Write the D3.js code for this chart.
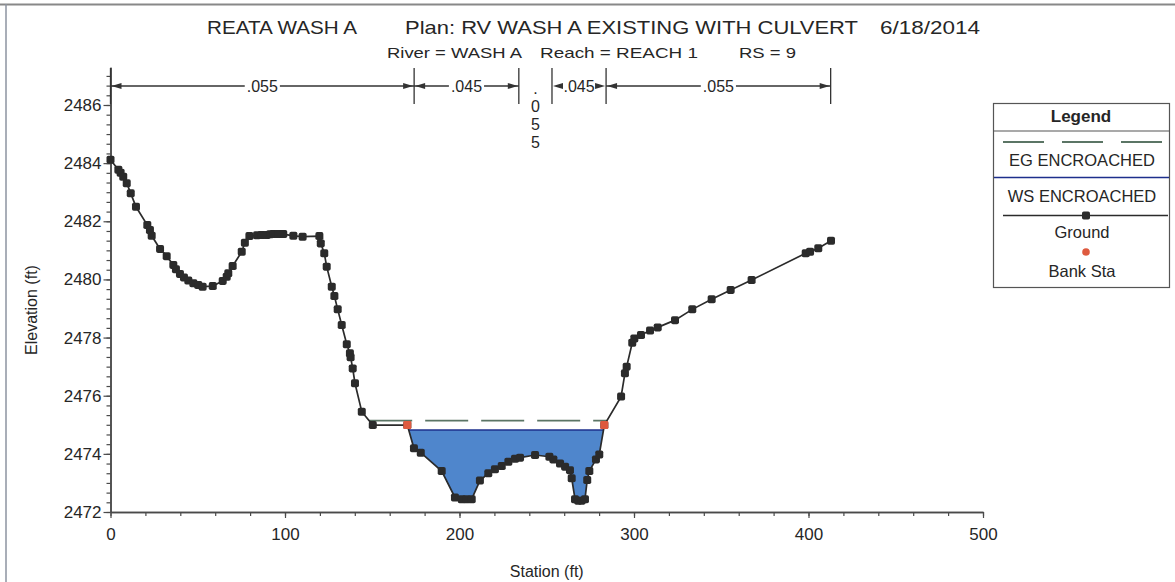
<!DOCTYPE html>
<html>
<head>
<meta charset="utf-8">
<script src="https://cdn.jsdelivr.net/npm/d3@7"></script>
<style>
  body { margin: 0; background: #fff; }
  svg { display: block; }
  text { font-family: "Liberation Sans", Arial, Helvetica, sans-serif; fill: #262626; }
</style>
</head>
<body>
<svg id="chart" width="1175" height="582"></svg>
<script>
// Cross-section ground survey: station (ft) and elevation (ft)
const stations = [
  0, 4.5, 5.8, 7.3, 9.3, 11.6, 14.6, 21.1, 22.6, 23.6, 28.4, 32.2, 36, 37.5, 39.8,
  42.1, 44.6, 47.5, 50.3, 52.8, 58.6, 64.3, 66.6, 67.5, 70, 75.2, 77, 79.6, 84,
  86.6, 89.5, 91.5, 93.3, 96.2, 99, 104.8, 110.1, 119.7, 120.5, 122.5, 123.9,
  126.8, 128.3, 130.2, 132.5, 135.4, 137.2, 137.6, 138.8, 140.1, 144, 150.3,
  170.1, 173.9, 177.8, 189.8, 197.4, 201.3, 204, 207, 211.7, 216.5, 220.3, 224.2,
  228, 231.8, 234.7, 243.3, 251.5, 253.8, 257.6, 260.5, 263.3, 264.3, 266.2, 268,
  270, 271.9, 273.2, 274.4, 278.2, 280.1, 283, 292.6, 294.8, 295.8, 299, 300.2,
  304, 309.2, 313.6, 323.5, 333.4, 344.5, 355.4, 367.4, 398.4, 400.9, 405.6, 412.9
];
const elevations = [
  2484.12, 2483.77, 2483.67, 2483.53, 2483.31, 2482.96, 2482.5, 2481.87, 2481.7, 2481.5,
  2481.05, 2480.8, 2480.5, 2480.35, 2480.19, 2480.07, 2479.96, 2479.87, 2479.81, 2479.75,
  2479.77, 2479.95, 2480.09, 2480.21, 2480.46, 2480.95, 2481.26, 2481.49, 2481.52,
  2481.53, 2481.53, 2481.55, 2481.56, 2481.56, 2481.56, 2481.5, 2481.47, 2481.49,
  2481.24, 2480.9, 2480.44, 2479.75, 2479.43, 2478.97, 2478.43, 2477.77, 2477.46,
  2477.32, 2476.94, 2476.43, 2475.45, 2474.99, 2474.99, 2474.19, 2474.04, 2473.41,
  2472.5, 2472.44, 2472.44, 2472.44, 2473.08, 2473.33, 2473.47, 2473.58, 2473.73,
  2473.83, 2473.87, 2473.96, 2473.9, 2473.81, 2473.67, 2473.56, 2473.44, 2473.16,
  2472.44, 2472.39, 2472.39, 2472.44, 2473.1, 2473.41, 2473.81, 2473.98, 2474.99,
  2475.97, 2476.77, 2477.0, 2477.82, 2477.97, 2478.09, 2478.24, 2478.35, 2478.6,
  2478.97, 2479.32, 2479.64, 2479.98, 2480.9, 2480.95, 2481.07, 2481.33
];

// Bank stations and computed water levels
const bankStations = [170.1, 283];
const wsElevation = 2474.82;   // WS ENCROACHED
const egElevation = 2475.14;   // EG ENCROACHED

// Manning's n breakpoints and values
const nBreaks = [0, 174, 234, 253, 284, 412.7];
const nValues = [".055", ".045", ".055", ".045", ".055"];

// Axis ticks
const xTicks = [0, 100, 200, 300, 400, 500];
const yTicks = [2472, 2474, 2476, 2478, 2480, 2482, 2484, 2486];

const titleParts = ["REATA WASH A", "Plan: RV WASH A EXISTING WITH CULVERT", "6/18/2014"];
const subtitleParts = ["River = WASH A", "Reach = REACH 1", "RS = 9"];
const legendLabels = ["EG ENCROACHED", "WS ENCROACHED", "Ground", "Bank Sta"];

const ground = stations.map((s, i) => ({ s, e: elevations[i] }));
const bankPts = bankStations.map(s => ({ s, e: elevations[stations.indexOf(s)] }));

const svg = d3.select("#chart");
const x = d3.scaleLinear().domain([0, 500]).range([110.5, 983]);
const y = d3.scaleLinear().domain([2472, 2487.3]).range([512, 67.2]);

const C = { axis: "#4a4a4a", ground: "#2b2b2b", fill: "#4f86cc", ws: "#1d2f8c", eg: "#5b7565", bank: "#de5a3f" };

// page frame
svg.append("line").attr("x1", 0).attr("x2", 1175).attr("y1", 4.5).attr("y2", 4.5)
  .attr("stroke", "#888").attr("stroke-width", 2);
svg.append("line").attr("x1", 6).attr("x2", 6).attr("y1", 4).attr("y2", 582)
  .attr("stroke", "#8d93a0").attr("stroke-width", 1.5);

// titles
const titleX = [[207, 150], [405, 453], [880, 100]];
titleParts.forEach((t, i) => {
  svg.append("text").attr("x", titleX[i][0]).attr("y", 34)
    .attr("font-size", 19).attr("textLength", titleX[i][1]).attr("lengthAdjust", "spacingAndGlyphs")
    .text(t);
});
const subX = [[387, 135], [540, 158], [739, 57]];
subtitleParts.forEach((t, i) => {
  svg.append("text").attr("x", subX[i][0]).attr("y", 58)
    .attr("font-size", 15).attr("textLength", subX[i][1]).attr("lengthAdjust", "spacingAndGlyphs")
    .text(t);
});

// axes
const yAxis = svg.append("g").attr("transform", `translate(${x(0)},0)`)
  .call(d3.axisLeft(y).tickValues(yTicks).tickSize(7).tickSizeOuter(0).tickPadding(2).tickFormat(d3.format("d")));
const yMinor = svg.append("g").attr("transform", `translate(${x(0)},0)`)
  .call(d3.axisLeft(y).tickValues(d3.range(2472, 2487.2, 1 / 3)).tickSize(4).tickSizeOuter(0).tickFormat(""));
const xAxis = svg.append("g").attr("transform", `translate(0,${y(2472)})`)
  .call(d3.axisBottom(x).tickValues(xTicks).tickSize(6).tickSizeOuter(0).tickPadding(10).tickFormat(d3.format("d")));
const xMinor = svg.append("g").attr("transform", `translate(0,${y(2472)})`)
  .call(d3.axisBottom(x).tickValues(d3.range(0, 501, 20)).tickSize(4).tickSizeOuter(0).tickFormat(""));
[yAxis, yMinor, xAxis, xMinor].forEach(g => {
  g.selectAll("path").attr("stroke", C.axis).attr("stroke-width", 1.5);
  g.selectAll("line").attr("stroke", C.axis).attr("stroke-width", 1.2);
  g.selectAll("text").attr("font-size", 17).attr("fill", "#262626").attr("font-family", null);
});
xAxis.selectAll("text").filter(d => d === 0).attr("fill", "#a8503c");

svg.append("text").attr("x", x(250)).attr("y", 577).attr("text-anchor", "middle")
  .attr("font-size", 16).text("Station (ft)");
svg.append("text").attr("transform", "translate(37,310) rotate(-90)")
  .attr("text-anchor", "middle").attr("font-size", 16).text("Elevation (ft)");

// Manning's n annotation
const nTop = 68, nBot = 104, nY = 86;
const nG = svg.append("g").attr("stroke", "#333").attr("fill", "#333");
nBreaks.forEach(b => {
  nG.append("line").attr("x1", x(b)).attr("x2", x(b)).attr("y1", nTop).attr("y2", nBot).attr("stroke-width", 1.3);
});
function arrowHead(tip, dir) {
  nG.append("path").attr("stroke", "none")
    .attr("d", `M${tip},${nY}L${tip + dir * 10},${nY - 3}L${tip + dir * 10},${nY + 3}Z`);
}
nValues.forEach((v, i) => {
  const a = x(nBreaks[i]), b = x(nBreaks[i + 1]), mid = (a + b) / 2;
  const probe = svg.append("text").attr("font-size", 16).text(v);
  const w = probe.node().getComputedTextLength();
  probe.remove();
  if (w + 6 < b - a) {
    svg.append("text").attr("x", mid).attr("y", nY).attr("dy", "0.36em")
      .attr("text-anchor", "middle").attr("font-size", 16).text(v);
    const l = mid - w / 2 - 2, r = mid + w / 2 + 2;
    if (l - a > 10) nG.append("line").attr("x1", a).attr("x2", l).attr("y1", nY).attr("y2", nY).attr("stroke-width", 1.3);
    if (b - r > 10) nG.append("line").attr("x1", r).attr("x2", b).attr("y1", nY).attr("y2", nY).attr("stroke-width", 1.3);
    arrowHead(a + 1, 1);
    arrowHead(b - 1, -1);
  } else {
    // too narrow: stack the characters vertically
    v.split("").forEach((ch, k) => {
      svg.append("text").attr("x", mid).attr("y", 94 + k * 18)
        .attr("text-anchor", "middle").attr("font-size", 16).text(ch);
    });
  }
});

// water level helpers: walk from the thalweg outward to where the ground rises above a level
function crossings(level) {
  const iMin = d3.minIndex(ground, d => d.e);
  let i = iMin;
  while (i > 0 && ground[i - 1].e < level) i--;
  const l0 = ground[i - 1], l1 = ground[i];
  const sl = l0.s + (level - l0.e) / (l1.e - l0.e) * (l1.s - l0.s);
  let j = iMin;
  while (j < ground.length - 1 && ground[j + 1].e < level) j++;
  const r0 = ground[j], r1 = ground[j + 1];
  const sr = r0.s + (level - r0.e) / (r1.e - r0.e) * (r1.s - r0.s);
  return { sl, sr, i, j };
}

// water fill
const ws = crossings(wsElevation);
const poly = [{ s: ws.sl, e: wsElevation }]
  .concat(ground.slice(ws.i, ws.j + 1))
  .concat([{ s: ws.sr, e: wsElevation }]);
const line = d3.line().x(d => x(d.s)).y(d => y(d.e));
svg.append("path").attr("d", line(poly) + "Z").attr("fill", C.fill).attr("stroke", "none");
svg.append("line").attr("x1", x(ws.sl)).attr("x2", x(ws.sr)).attr("y1", y(wsElevation)).attr("y2", y(wsElevation))
  .attr("stroke", C.ws).attr("stroke-width", 1.6);

// energy grade line
const eg = crossings(egElevation);
svg.append("line").attr("x1", x(eg.sl)).attr("x2", x(eg.sr)).attr("y1", y(egElevation)).attr("y2", y(egElevation))
  .attr("stroke", C.eg).attr("stroke-width", 1.8).attr("stroke-dasharray", "43,13");

// ground line and points
svg.append("path").attr("d", line(ground)).attr("fill", "none").attr("stroke", C.ground).attr("stroke-width", 1.7);
svg.append("g").selectAll("rect").data(ground).join("rect")
  .attr("x", d => x(d.s) - 4).attr("y", d => y(d.e) - 4)
  .attr("width", 8).attr("height", 8).attr("rx", 1.8).attr("fill", C.ground);
svg.append("g").selectAll("rect").data(bankPts).join("rect")
  .attr("x", d => x(d.s) - 4).attr("y", d => y(d.e) - 4)
  .attr("width", 8).attr("height", 8).attr("rx", 1.2).attr("fill", C.bank);

// legend
const lg = svg.append("g");
lg.append("rect").attr("x", 993.5).attr("y", 103.5).attr("width", 176).attr("height", 184)
  .attr("fill", "#fff").attr("stroke", "#555").attr("stroke-width", 1.2);
lg.append("text").attr("x", 1081).attr("y", 116).attr("dy", "0.36em").attr("text-anchor", "middle")
  .attr("font-size", 17).attr("font-weight", "bold").text("Legend");
lg.append("line").attr("x1", 993.5).attr("x2", 1169.5).attr("y1", 131).attr("y2", 131).attr("stroke", "#555").attr("stroke-width", 1.2);
lg.append("line").attr("x1", 1003).attr("x2", 1164).attr("y1", 142).attr("y2", 142)
  .attr("stroke", C.eg).attr("stroke-width", 1.8).attr("stroke-dasharray", "41,18");
lg.append("line").attr("x1", 994).attr("x2", 1169).attr("y1", 177.5).attr("y2", 177.5)
  .attr("stroke", C.ws).attr("stroke-width", 1.6);
lg.append("line").attr("x1", 1003).attr("x2", 1168).attr("y1", 215.5).attr("y2", 215.5)
  .attr("stroke", C.ground).attr("stroke-width", 1.7);
lg.append("rect").attr("x", 1082).attr("y", 211.5).attr("width", 8).attr("height", 8).attr("rx", 1.8).attr("fill", C.ground);
lg.append("circle").attr("cx", 1086).attr("cy", 252).attr("r", 3.8).attr("fill", C.bank);
const legendY = [160, 196, 232.5, 271.5];
legendLabels.forEach((t, i) => {
  lg.append("text").attr("x", 1082).attr("y", legendY[i]).attr("dy", "0.36em").attr("text-anchor", "middle")
    .attr("font-size", 16.5).text(t);
});
</script>
</body>
</html>
